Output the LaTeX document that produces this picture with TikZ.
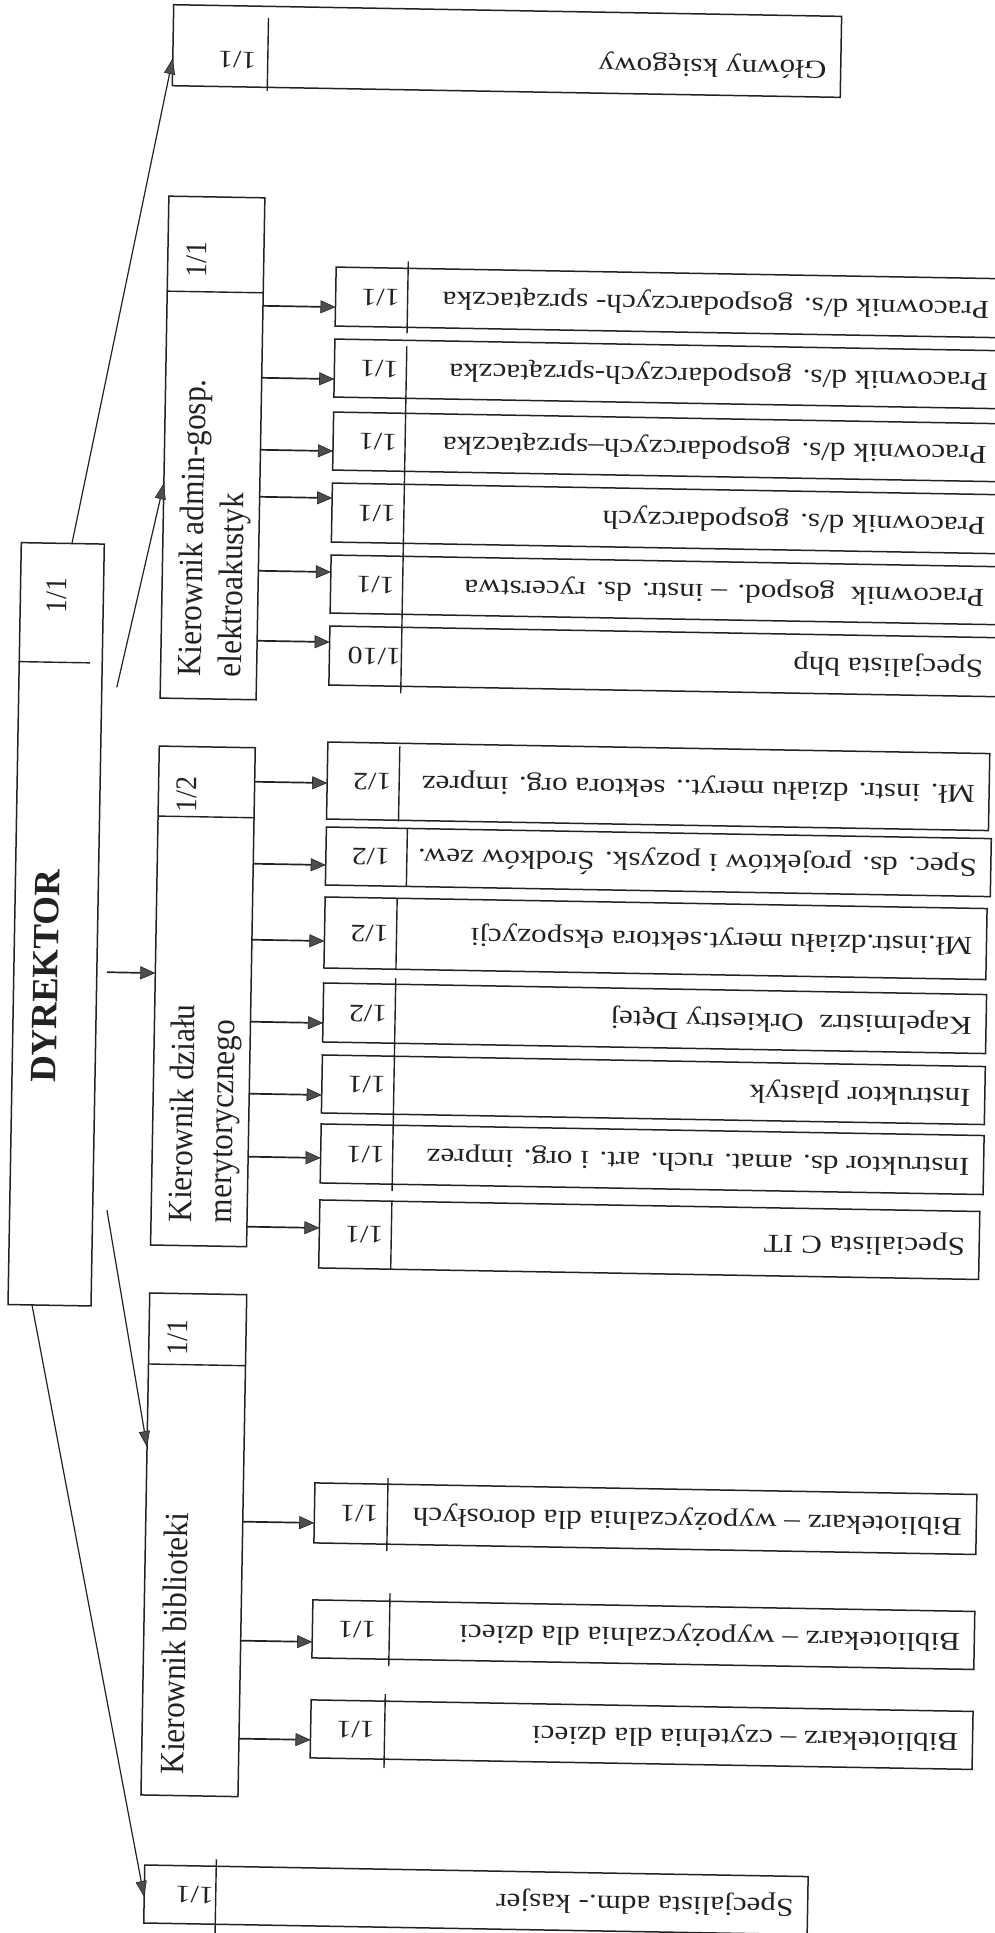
\documentclass[tikz,border=0pt]{standalone}
\usepackage{fontspec}
\setmainfont{Liberation Serif}
\newfontfamily\rowfont[FakeStretch=1.2]{Liberation Serif}
\newfontfamily\headfont[FakeStretch=0.92]{Liberation Serif}
\usetikzlibrary{arrows.meta,calc}

\definecolor{ink}{HTML}{222222}
\definecolor{tipfill}{HTML}{4d4d4d}

\tikzset{
  boxline/.style={draw=ink, line width=1.5pt, inner sep=0pt, outer sep=0pt, anchor=north west},
  divider/.style={draw=ink, line width=1.4pt},
  feed/.style={draw=ink, line width=1.7pt, -{Triangle[length=15pt,width=13pt,line width=0.6pt,fill=tipfill]}},
  diagarrow/.style={draw=ink, line width=1.2pt, -{Triangle[length=16pt,width=11pt,line width=0.6pt,fill=tipfill]}},
  rowtext/.style={rotate=180, anchor=west, inner sep=0pt, text=ink, font=\rowfont\fontsize{26}{30}\selectfont},
  rowfrac/.style={rotate=180, inner sep=0pt, text=ink, font=\rowfont\fontsize{25}{30}\selectfont},
  headtext/.style={rotate=90, anchor=north west, align=left, inner sep=0pt, text=ink, font=\headfont\fontsize{34}{40}\selectfont},
  headfrac/.style={rotate=90, inner sep=0pt, text=ink, font=\headfont\fontsize{30}{34}\selectfont},
}

% one post box: name, top, bottom, right edge, arrow level, fraction, title
% the feeding arrow leaves the head box named in \pname (top \ptop, bottom \pbot)
\newcommand{\jobrow}[7]{%
  \node[boxline, minimum width={(#4-324)*1pt}, minimum height={(#3-#2)*1pt}] (#1) at (324,#2) {};
  \node[rowfrac] at (369,{(#2+#3)/2}) {#6};
  \node[rowtext] at ({#4-14},{(#2+#3)/2}) {#7};
  \draw[feed] ($(\pname.north east)!{(#5-\ptop)/(\pbot-\ptop)}!(\pname.south east)$)
           -- ($(#1.north west)!{(#5-#2)/(#3-#2)}!(#1.south west)$);
}

\begin{document}
\begin{tikzpicture}[x=1pt,y=-1pt]
\path[use as bounding box, fill=white] (0,0) rectangle (994,1933);
\begin{scope}[rotate around={-1:(497,966)}, transform shape]

% director
\node[boxline, minimum width=83pt, minimum height=762pt] (dyr) at (14,551) {};
\draw[divider] (14,670) -- (85,670);
\node[headfrac] at (50.5,603) {1/1};
\node[rotate=90, inner sep=0pt, text=ink, font=\fontsize{37}{40}\selectfont\bfseries] at (46,984) {DYREKTOR};

% chief accountant
\node[boxline, minimum width=668pt, minimum height=81pt] (glowny) at (157,10.5) {};
\draw[divider] (252,22) -- (252,95);
\node[rowfrac] at (221.5,64.5) {1/1};
\node[rowtext] at (811,62) {Główny księgowy};

% heads of departments
\node[boxline, minimum width=96pt, minimum height=502pt] (admin) at (155.5,202) {};
\draw[divider] (155.5,297) -- (251.5,297);
\node[headfrac] at (184.5,265) {1/1};
\node[headtext] at (172,682) {Kierownik admin-gosp.\\elektroakustyk};

\node[boxline, minimum width=96pt, minimum height=499pt] (meryt) at (155.5,752) {};
\draw[divider] (155.5,822) -- (251.5,822);
\node[headfrac] at (184,800) {1/2};
\node[headtext] at (172,1228) {Kierownik działu\\merytorycznego};

\node[boxline, minimum width=97pt, minimum height=502pt] (bibl) at (155.5,1299) {};
\draw[divider] (155.5,1370) -- (252.5,1370);
\node[headfrac] at (184.5,1343) {1/1};
\node[headtext] at (174,1780) {Kierownik biblioteki};

% cashier
\node[boxline, minimum width=663.5pt, minimum height=58pt] (kasjer) at (160.5,1871) {};
\draw[divider] (232,1864) -- (232,1938);
\node[rowfrac] at (211,1900) {1/1};
\node[rowtext] at (810,1900) {Specjalista adm.- kasjer};

% lines from the director
\coordinate (toAdmin) at (112,694);
\coordinate (toMeryt) at (107,979);
\coordinate (toBibl) at (111.3,1217);
\draw[diagarrow] ($(dyr.north west)!0.61!(dyr.north east)$) -- ($(glowny.north west)!0.66!(glowny.south west)$);
\draw[diagarrow] (toAdmin) -- ($(admin.north west)!0.572!(admin.south west)$);
\draw[feed] (toMeryt) -- ($(meryt.north west)!0.455!(meryt.south west)$);
\draw[diagarrow] (toBibl) -- ($(bibl.north west)!0.307!(bibl.south west)$);
\draw[diagarrow] ($(dyr.south west)!0.289!(dyr.south east)$) -- ($(kasjer.north west)!0.552!(kasjer.south west)$);

% administration posts
\def\pname{admin}\def\ptop{202}\def\pbot{704}
\jobrow{a1}{270}{329}{992}{310}{1/1}{Pracownik d/s. gospodarczych- sprzątaczka}
\jobrow{a2}{342}{400}{992}{382}{1/1}{Pracownik d/s. gospodarczych-sprzątaczka}
\jobrow{a3}{415}{473}{992}{454}{1/1}{Pracownik d/s. gospodarczych–sprzątaczka}
\jobrow{a4}{486}{545}{992}{501}{1/1}{Pracownik d/s. gospodarczych}
\jobrow{a5}{558}{616}{992}{575}{1/1}{Pracownik~ gospod. – instr. ds. rycerstwa}
\jobrow{a6}{629}{688}{992}{645}{1/10}{Specjalista bhp}
\draw[divider] (396,263) -- (396,335);
\draw[divider] (396,348) -- (396,695);

% programme department posts
\def\pname{meryt}\def\ptop{752}\def\pbot{1251}
\jobrow{m1}{745}{822}{986}{786}{1/2}{Mł. instr. działu meryt.. sektora org. imprez}
\jobrow{m2}{830}{888}{989}{868}{1/2}{Spec. ds. projektów i pozysk. Środków zew.}
\jobrow{m3}{900}{971}{986}{944}{1/2}{Mł.instr.działu meryt.sektora ekspozycji}
\jobrow{m4}{986}{1045}{987}{1026}{1/2}{Kapelmistrz~ Orkiestry Dętej}
\jobrow{m5}{1058}{1116}{987}{1098}{1/1}{Instruktor plastyk}
\jobrow{m6}{1127}{1186}{987}{1161}{1/1}{Instruktor ds. amat. ruch. art. i org. imprez}
\jobrow{m7}{1203}{1271}{984}{1231}{1/1}{Specialista C IT}
\draw[divider] (396,748) -- (396,823);
\draw[divider] (405,830) -- (405,888);
\draw[divider] (396,900) -- (396,971);
\draw[divider] (396,980) -- (396,1193);
\draw[divider] (396,1203) -- (396,1271);

% library posts
\def\pname{bibl}\def\ptop{1299}\def\pbot{1801}
\jobrow{b1}{1486}{1546}{986}{1526}{1/1}{Bibliotekarz – wypożyczalnia dla dorosłych}
\jobrow{b2}{1603}{1661}{986}{1645}{1/1}{Bibliotekarz – wypożyczalnia dla dzieci}
\jobrow{b3}{1703}{1761}{986}{1743}{1/1}{Bibliotekarz – czytelnia dla dzieci}
\draw[divider] (397,1480) -- (397,1553);
\draw[divider] (401,1595) -- (401,1668);
\draw[divider] (398,1696) -- (398,1770);

\end{scope}
\end{tikzpicture}
\end{document}
